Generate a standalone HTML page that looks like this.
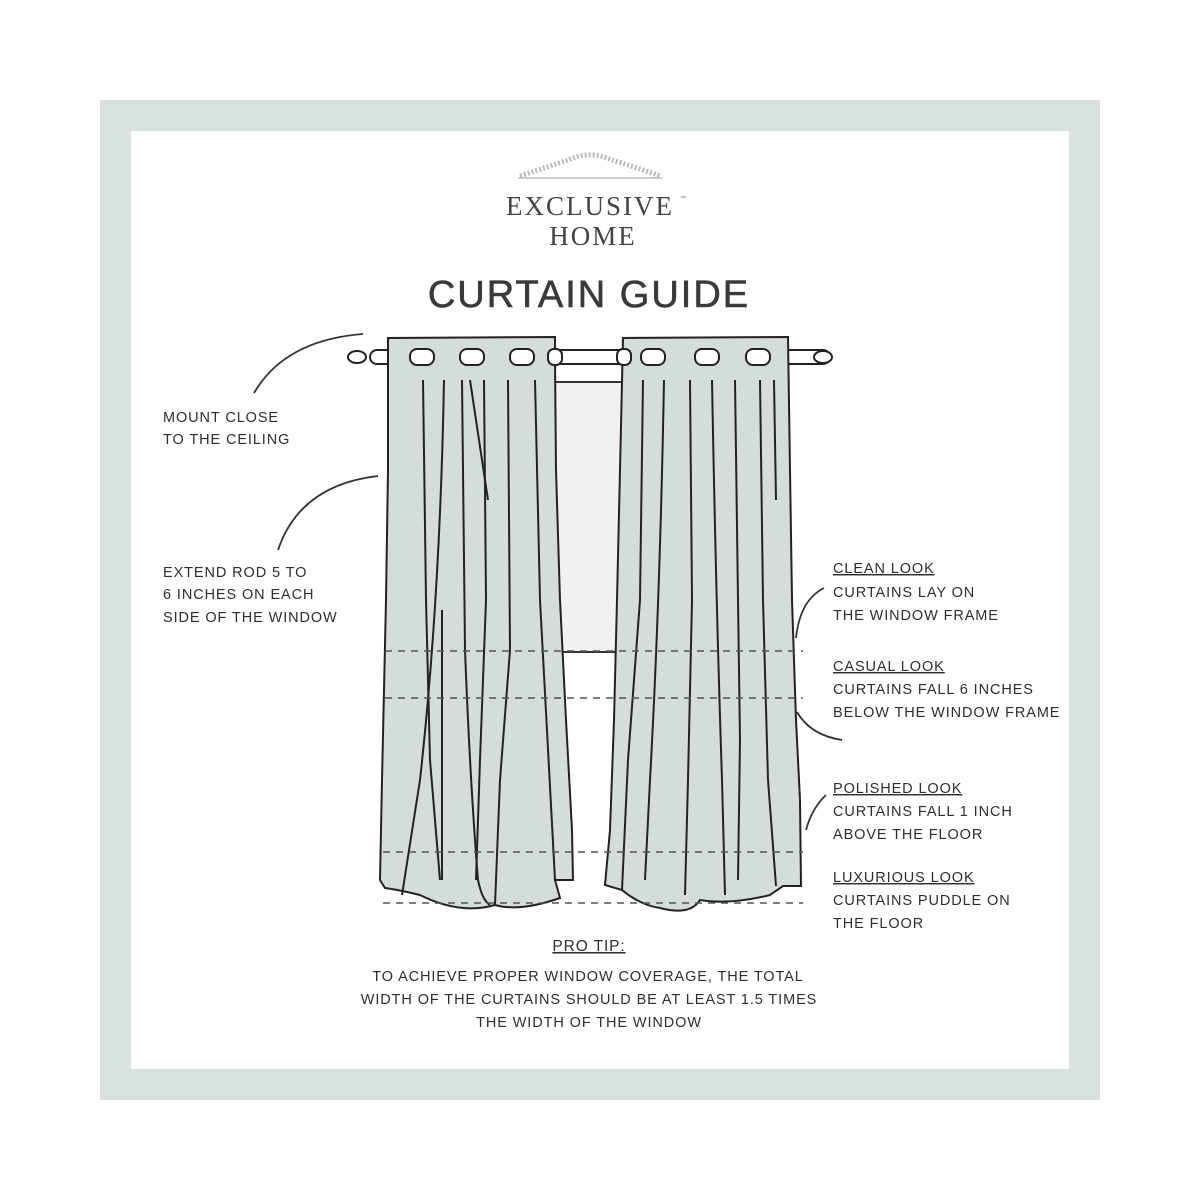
<!DOCTYPE html>
<html><head><meta charset="utf-8"><style>
html,body{margin:0;padding:0;background:#fff}
svg{display:block}
text{font-family:"Liberation Sans",sans-serif;fill:#2e2e2e}
.t{font-size:14.5px;letter-spacing:0.9px}
</style></head><body>
<svg width="1200" height="1200" viewBox="0 0 1200 1200" xmlns="http://www.w3.org/2000/svg">
<rect x="100" y="100" width="1000" height="1000" fill="#d8e1dd"/>
<rect x="131" y="131" width="938" height="938" fill="#fff"/>
<path d="M520 176 Q550 166 568 160 Q590 150 612 160 Q632 166 660 176" fill="none" stroke="#bbb" stroke-width="5" stroke-dasharray="2 2"/>
<line x1="518" y1="178" x2="662" y2="178" stroke="#bbb" stroke-width="1.5"/>
<text x="590" y="215" text-anchor="middle" style="font-family:'Liberation Serif',serif;font-size:27px;letter-spacing:2px;fill:#444">EXCLUSIVE</text>
<text x="680" y="200" style="font-size:6px;fill:#666">™</text>
<text x="593" y="245" text-anchor="middle" style="font-family:'Liberation Serif',serif;font-size:27px;letter-spacing:2px;fill:#444">HOME</text>
<text x="589" y="307" text-anchor="middle" style="font-size:38px;letter-spacing:2px;fill:#3a3a3a;stroke:#3a3a3a;stroke-width:0.6">CURTAIN GUIDE</text>
<rect x="555" y="382" width="68" height="270" fill="#f1f1f1" stroke="#333" stroke-width="2"/>
<rect x="370" y="350" width="460" height="14" rx="7" fill="#fff" stroke="#222" stroke-width="2"/>
<ellipse cx="357" cy="357" rx="9" ry="6" fill="#fff" stroke="#222" stroke-width="2"/>
<ellipse cx="823" cy="357" rx="9" ry="6" fill="#fff" stroke="#222" stroke-width="2"/>
<path d="M388 338 L555 337 L555 360 L556 470 L560 600 L566 720 L572 830 L573 880 L555 880 L560 898 Q520 912 495 905 Q460 915 420 895 Q400 890 385 888 L380 880 L382 780 L386 600 L388 470 Z" fill="#d5ddd9" stroke="#222" stroke-width="2"/>
<path d="M623 338 L788 337 L790 470 L792 600 L796 720 L800 800 L801 886 L783 886 L770 895 Q730 905 700 900 Q690 916 660 908 Q640 905 622 890 L605 885 L610 830 L614 720 L617 600 L620 470 Z" fill="#d5ddd9" stroke="#222" stroke-width="2"/>
<g fill="none" stroke="#222" stroke-width="2">
<rect x="410" y="349" width="24" height="16" rx="7" fill="#fff"/>
<rect x="460" y="349" width="24" height="16" rx="7" fill="#fff"/>
<rect x="510" y="349" width="24" height="16" rx="7" fill="#fff"/>
<rect x="641" y="349" width="24" height="16" rx="7" fill="#fff"/>
<rect x="695" y="349" width="24" height="16" rx="7" fill="#fff"/>
<rect x="746" y="349" width="24" height="16" rx="7" fill="#fff"/>
<rect x="548" y="349" width="14" height="16" rx="6" fill="#fff"/>
<rect x="617" y="349" width="14" height="16" rx="6" fill="#fff"/>
<path d="M423 380 L426 600 L430 760 L440 880"/>
<path d="M444 380 Q440 600 420 780 L402 895"/>
<path d="M462 380 L465 650 Q470 780 478 880 Q482 900 490 905"/>
<path d="M470 380 L488 500"/>
<path d="M484 380 L486 600 L480 760 L476 880"/>
<path d="M508 380 L510 650 L500 780 L495 905"/>
<path d="M535 380 L540 600 Q548 750 555 880"/>
<path d="M442 610 L442 880"/>
<path d="M643 380 L640 600 L628 760 L622 890"/>
<path d="M664 380 Q660 600 650 780 L645 880"/>
<path d="M690 380 L692 600 L688 780 L685 895"/>
<path d="M712 380 Q716 600 722 780 L725 895"/>
<path d="M735 380 L738 600 L740 740 L738 880"/>
<path d="M760 380 L763 600 L768 780 L776 886"/>
<path d="M774 380 L776 500"/>
</g>
<g stroke="#555" stroke-width="1.5" stroke-dasharray="7 6">
<line x1="385" y1="651" x2="803" y2="651"/>
<line x1="385" y1="698" x2="803" y2="698"/>
<line x1="383" y1="852" x2="803" y2="852"/>
<line x1="383" y1="903" x2="803" y2="903"/>
</g>
<g fill="none" stroke="#333" stroke-width="1.8">
<path d="M254 393 Q285 340 363 334"/>
<path d="M278 550 Q300 485 378 476"/>
<path d="M796 638 Q800 600 824 588"/>
<path d="M797 712 Q810 735 842 740"/>
<path d="M806 830 Q812 808 826 795"/>
</g>
<text class="t" x="163" y="422">MOUNT CLOSE</text>
<text class="t" x="163" y="444">TO THE CEILING</text>
<text class="t" x="163" y="577">EXTEND ROD 5 TO</text>
<text class="t" x="163" y="599">6 INCHES ON EACH</text>
<text class="t" x="163" y="622">SIDE OF THE WINDOW</text>
<text class="t" x="833" y="573" text-decoration="underline">CLEAN LOOK</text>
<text class="t" x="833" y="597">CURTAINS LAY ON</text>
<text class="t" x="833" y="620">THE WINDOW FRAME</text>
<text class="t" x="833" y="671" text-decoration="underline">CASUAL LOOK</text>
<text class="t" x="833" y="694">CURTAINS FALL 6 INCHES</text>
<text class="t" x="833" y="717">BELOW THE WINDOW FRAME</text>
<text class="t" x="833" y="793" text-decoration="underline">POLISHED LOOK</text>
<text class="t" x="833" y="816">CURTAINS FALL 1 INCH</text>
<text class="t" x="833" y="839">ABOVE THE FLOOR</text>
<text class="t" x="833" y="882" text-decoration="underline">LUXURIOUS LOOK</text>
<text class="t" x="833" y="905">CURTAINS PUDDLE ON</text>
<text class="t" x="833" y="928">THE FLOOR</text>
<text class="t" x="589" y="951" text-anchor="middle" text-decoration="underline" style="font-size:15.5px">PRO TIP:</text>
<text class="t" x="588" y="981" text-anchor="middle">TO ACHIEVE PROPER WINDOW COVERAGE, THE TOTAL</text>
<text class="t" x="589" y="1004" text-anchor="middle">WIDTH OF THE CURTAINS SHOULD BE AT LEAST 1.5 TIMES</text>
<text class="t" x="589" y="1027" text-anchor="middle">THE WIDTH OF THE WINDOW</text>
</svg>
</body></html>
